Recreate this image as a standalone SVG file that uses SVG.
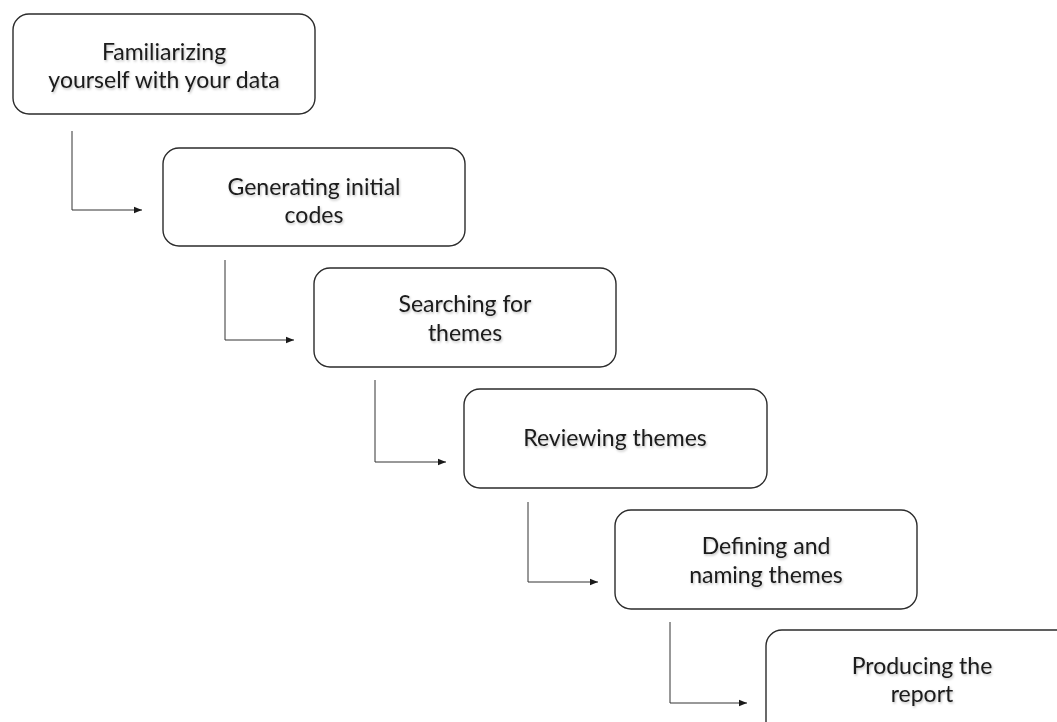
<svg xmlns="http://www.w3.org/2000/svg" width="1057" height="722" viewBox="0 0 1057 722">
  <defs>
    <style>
      .box { fill: #ffffff; stroke: #2b2b2b; stroke-width: 1.4; }
      .lbl { font-family: "Lato", "Liberation Sans", sans-serif; font-size: 23px; fill: #1a1a1a; text-anchor: middle; filter: url(#soft); }
      .link { fill: none; stroke: #333333; stroke-width: 1; marker-end: url(#tip); }
    </style>
    <filter id="soft" x="-10%" y="-30%" width="120%" height="160%">
      <feDropShadow dx="1" dy="1.5" stdDeviation="1.2" flood-color="#000000" flood-opacity="0.25"/>
    </filter>
    <marker id="tip" viewBox="0 0 10 10" refX="10" refY="5" markerWidth="8" markerHeight="8" markerUnits="userSpaceOnUse" orient="auto">
      <path d="M0,1 L10,5 L0,9 Z" fill="#1a1a1a"/>
    </marker>
  </defs>
  <rect width="1057" height="722" fill="#ffffff"/>

  <!-- connectors between successive phases -->
  <g id="connectors">
    <path class="link" d="M72,131 V210 H142"/>
    <path class="link" d="M225,260 V340 H294"/>
    <path class="link" d="M375,380 V462 H446"/>
    <path class="link" d="M528,502 V582 H598"/>
    <path class="link" d="M670,622 V703 H747"/>
  </g>

  <g id="phase1">
    <rect class="box" x="13" y="14" width="302" height="100" rx="16"/>
    <text class="lbl" x="164" y="60">Familiarizing</text>
    <text class="lbl" x="164" y="88">yourself with your data</text>
  </g>
  <g id="phase2">
    <rect class="box" x="163" y="148" width="302" height="98" rx="16"/>
    <text class="lbl" x="314" y="195">Generating initial</text>
    <text class="lbl" x="314" y="223">codes</text>
  </g>
  <g id="phase3">
    <rect class="box" x="314" y="268" width="302" height="99" rx="16"/>
    <text class="lbl" x="465" y="312">Searching for</text>
    <text class="lbl" x="465" y="341">themes</text>
  </g>
  <g id="phase4">
    <rect class="box" x="464" y="389" width="303" height="99" rx="16"/>
    <text class="lbl" x="615" y="446">Reviewing themes</text>
  </g>
  <g id="phase5">
    <rect class="box" x="615" y="510" width="302" height="99" rx="16"/>
    <text class="lbl" x="766" y="554">Defining and</text>
    <text class="lbl" x="766" y="583">naming themes</text>
  </g>
  <g id="phase6">
    <rect class="box" x="766" y="630" width="312" height="110" rx="16"/>
    <text class="lbl" x="922" y="674">Producing the</text>
    <text class="lbl" x="922" y="702">report</text>
  </g>
</svg>
